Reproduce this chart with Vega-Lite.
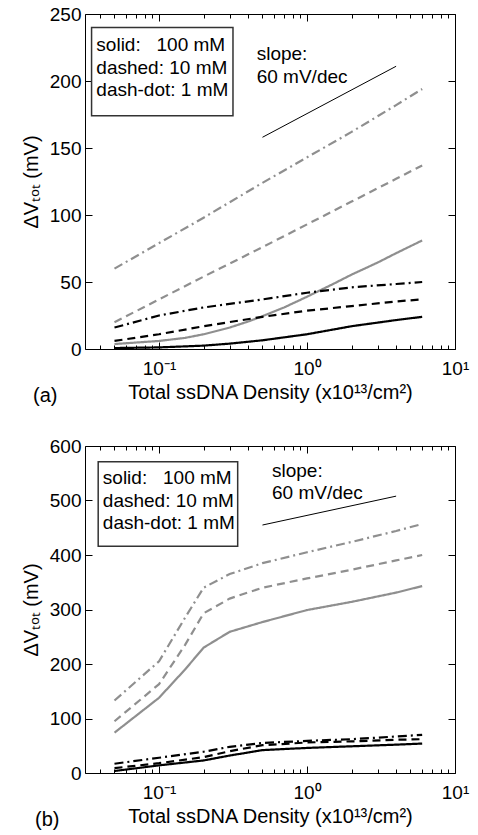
{
  "$schema": "https://vega.github.io/schema/vega-lite/v6.json",
  "padding": {"left": 20, "top": 4, "right": 5, "bottom": 5},
  "spacing": 29,
  "config": {
    "font": "Liberation Sans",
    "view": {"stroke": "black", "strokeWidth": 1},
    "axis": {"grid": false, "domain": false, "ticks": true, "tickWidth": 1, "labelFontSize": 19, "titleFontSize": 20, "labelColor": "black", "titleColor": "black", "titleFontWeight": "normal", "tickColor": "black", "labelFont": "Liberation Sans", "titleFont": "Liberation Sans"}
  },
  "datasets": {
    "curves": [
      {"panel": "a", "group": "G1", "salt": "1 mM", "x": 0.05, "y": 60},
      {"panel": "a", "group": "G1", "salt": "1 mM", "x": 0.1, "y": 79},
      {"panel": "a", "group": "G1", "salt": "1 mM", "x": 0.2, "y": 98},
      {"panel": "a", "group": "G1", "salt": "1 mM", "x": 0.5, "y": 124},
      {"panel": "a", "group": "G1", "salt": "1 mM", "x": 1, "y": 143},
      {"panel": "a", "group": "G1", "salt": "1 mM", "x": 2, "y": 162},
      {"panel": "a", "group": "G1", "salt": "1 mM", "x": 4, "y": 182},
      {"panel": "a", "group": "G1", "salt": "1 mM", "x": 6, "y": 194},
      {"panel": "a", "group": "G1", "salt": "10 mM", "x": 0.05, "y": 20},
      {"panel": "a", "group": "G1", "salt": "10 mM", "x": 0.1, "y": 37},
      {"panel": "a", "group": "G1", "salt": "10 mM", "x": 0.2, "y": 54},
      {"panel": "a", "group": "G1", "salt": "10 mM", "x": 0.5, "y": 76},
      {"panel": "a", "group": "G1", "salt": "10 mM", "x": 1, "y": 93},
      {"panel": "a", "group": "G1", "salt": "10 mM", "x": 2, "y": 110},
      {"panel": "a", "group": "G1", "salt": "10 mM", "x": 4, "y": 127},
      {"panel": "a", "group": "G1", "salt": "10 mM", "x": 6, "y": 137},
      {"panel": "a", "group": "G1", "salt": "100 mM", "x": 0.05, "y": 3.7},
      {"panel": "a", "group": "G1", "salt": "100 mM", "x": 0.1, "y": 6},
      {"panel": "a", "group": "G1", "salt": "100 mM", "x": 0.15, "y": 8.3},
      {"panel": "a", "group": "G1", "salt": "100 mM", "x": 0.2, "y": 11},
      {"panel": "a", "group": "G1", "salt": "100 mM", "x": 0.3, "y": 16},
      {"panel": "a", "group": "G1", "salt": "100 mM", "x": 0.4, "y": 20.5},
      {"panel": "a", "group": "G1", "salt": "100 mM", "x": 0.5, "y": 24.5},
      {"panel": "a", "group": "G1", "salt": "100 mM", "x": 0.7, "y": 31},
      {"panel": "a", "group": "G1", "salt": "100 mM", "x": 1, "y": 39},
      {"panel": "a", "group": "G1", "salt": "100 mM", "x": 1.5, "y": 48.5},
      {"panel": "a", "group": "G1", "salt": "100 mM", "x": 2, "y": 55.5},
      {"panel": "a", "group": "G1", "salt": "100 mM", "x": 3, "y": 64.5},
      {"panel": "a", "group": "G1", "salt": "100 mM", "x": 4, "y": 71.5},
      {"panel": "a", "group": "G1", "salt": "100 mM", "x": 6, "y": 81},
      {"panel": "a", "group": "G2", "salt": "1 mM", "x": 0.05, "y": 16},
      {"panel": "a", "group": "G2", "salt": "1 mM", "x": 0.1, "y": 25},
      {"panel": "a", "group": "G2", "salt": "1 mM", "x": 0.2, "y": 31},
      {"panel": "a", "group": "G2", "salt": "1 mM", "x": 0.5, "y": 37},
      {"panel": "a", "group": "G2", "salt": "1 mM", "x": 1, "y": 42},
      {"panel": "a", "group": "G2", "salt": "1 mM", "x": 2, "y": 46},
      {"panel": "a", "group": "G2", "salt": "1 mM", "x": 4, "y": 48.5},
      {"panel": "a", "group": "G2", "salt": "1 mM", "x": 6, "y": 50},
      {"panel": "a", "group": "G2", "salt": "10 mM", "x": 0.05, "y": 6},
      {"panel": "a", "group": "G2", "salt": "10 mM", "x": 0.1, "y": 11},
      {"panel": "a", "group": "G2", "salt": "10 mM", "x": 0.2, "y": 17},
      {"panel": "a", "group": "G2", "salt": "10 mM", "x": 0.5, "y": 24},
      {"panel": "a", "group": "G2", "salt": "10 mM", "x": 1, "y": 28.6},
      {"panel": "a", "group": "G2", "salt": "10 mM", "x": 2, "y": 32},
      {"panel": "a", "group": "G2", "salt": "10 mM", "x": 4, "y": 35.5},
      {"panel": "a", "group": "G2", "salt": "10 mM", "x": 6, "y": 37},
      {"panel": "a", "group": "G2", "salt": "100 mM", "x": 0.05, "y": 0.7},
      {"panel": "a", "group": "G2", "salt": "100 mM", "x": 0.1, "y": 1.2},
      {"panel": "a", "group": "G2", "salt": "100 mM", "x": 0.2, "y": 2.5},
      {"panel": "a", "group": "G2", "salt": "100 mM", "x": 0.3, "y": 4},
      {"panel": "a", "group": "G2", "salt": "100 mM", "x": 0.5, "y": 6.5},
      {"panel": "a", "group": "G2", "salt": "100 mM", "x": 1, "y": 11},
      {"panel": "a", "group": "G2", "salt": "100 mM", "x": 2, "y": 17},
      {"panel": "a", "group": "G2", "salt": "100 mM", "x": 4, "y": 21.6},
      {"panel": "a", "group": "G2", "salt": "100 mM", "x": 6, "y": 24},
      {"panel": "b", "group": "G1", "salt": "1 mM", "x": 0.05, "y": 133},
      {"panel": "b", "group": "G1", "salt": "1 mM", "x": 0.1, "y": 205},
      {"panel": "b", "group": "G1", "salt": "1 mM", "x": 0.15, "y": 285},
      {"panel": "b", "group": "G1", "salt": "1 mM", "x": 0.2, "y": 340},
      {"panel": "b", "group": "G1", "salt": "1 mM", "x": 0.3, "y": 365},
      {"panel": "b", "group": "G1", "salt": "1 mM", "x": 0.5, "y": 385},
      {"panel": "b", "group": "G1", "salt": "1 mM", "x": 1, "y": 405},
      {"panel": "b", "group": "G1", "salt": "1 mM", "x": 2, "y": 424},
      {"panel": "b", "group": "G1", "salt": "1 mM", "x": 4, "y": 444},
      {"panel": "b", "group": "G1", "salt": "1 mM", "x": 6, "y": 457},
      {"panel": "b", "group": "G1", "salt": "10 mM", "x": 0.05, "y": 95},
      {"panel": "b", "group": "G1", "salt": "10 mM", "x": 0.1, "y": 163},
      {"panel": "b", "group": "G1", "salt": "10 mM", "x": 0.15, "y": 235},
      {"panel": "b", "group": "G1", "salt": "10 mM", "x": 0.2, "y": 293},
      {"panel": "b", "group": "G1", "salt": "10 mM", "x": 0.3, "y": 320},
      {"panel": "b", "group": "G1", "salt": "10 mM", "x": 0.5, "y": 340},
      {"panel": "b", "group": "G1", "salt": "10 mM", "x": 1, "y": 357},
      {"panel": "b", "group": "G1", "salt": "10 mM", "x": 2, "y": 373},
      {"panel": "b", "group": "G1", "salt": "10 mM", "x": 4, "y": 390},
      {"panel": "b", "group": "G1", "salt": "10 mM", "x": 6, "y": 400},
      {"panel": "b", "group": "G1", "salt": "100 mM", "x": 0.05, "y": 74},
      {"panel": "b", "group": "G1", "salt": "100 mM", "x": 0.1, "y": 138},
      {"panel": "b", "group": "G1", "salt": "100 mM", "x": 0.15, "y": 190},
      {"panel": "b", "group": "G1", "salt": "100 mM", "x": 0.2, "y": 230},
      {"panel": "b", "group": "G1", "salt": "100 mM", "x": 0.3, "y": 259},
      {"panel": "b", "group": "G1", "salt": "100 mM", "x": 0.5, "y": 277},
      {"panel": "b", "group": "G1", "salt": "100 mM", "x": 1, "y": 299},
      {"panel": "b", "group": "G1", "salt": "100 mM", "x": 2, "y": 314},
      {"panel": "b", "group": "G1", "salt": "100 mM", "x": 4, "y": 331},
      {"panel": "b", "group": "G1", "salt": "100 mM", "x": 6, "y": 343},
      {"panel": "b", "group": "G2", "salt": "1 mM", "x": 0.05, "y": 17},
      {"panel": "b", "group": "G2", "salt": "1 mM", "x": 0.1, "y": 28},
      {"panel": "b", "group": "G2", "salt": "1 mM", "x": 0.2, "y": 39},
      {"panel": "b", "group": "G2", "salt": "1 mM", "x": 0.3, "y": 48},
      {"panel": "b", "group": "G2", "salt": "1 mM", "x": 0.5, "y": 55},
      {"panel": "b", "group": "G2", "salt": "1 mM", "x": 1, "y": 59},
      {"panel": "b", "group": "G2", "salt": "1 mM", "x": 2, "y": 62},
      {"panel": "b", "group": "G2", "salt": "1 mM", "x": 4, "y": 67},
      {"panel": "b", "group": "G2", "salt": "1 mM", "x": 6, "y": 70},
      {"panel": "b", "group": "G2", "salt": "10 mM", "x": 0.05, "y": 9},
      {"panel": "b", "group": "G2", "salt": "10 mM", "x": 0.1, "y": 18},
      {"panel": "b", "group": "G2", "salt": "10 mM", "x": 0.2, "y": 29},
      {"panel": "b", "group": "G2", "salt": "10 mM", "x": 0.3, "y": 40},
      {"panel": "b", "group": "G2", "salt": "10 mM", "x": 0.5, "y": 51},
      {"panel": "b", "group": "G2", "salt": "10 mM", "x": 1, "y": 56},
      {"panel": "b", "group": "G2", "salt": "10 mM", "x": 2, "y": 58},
      {"panel": "b", "group": "G2", "salt": "10 mM", "x": 4, "y": 61},
      {"panel": "b", "group": "G2", "salt": "10 mM", "x": 6, "y": 62},
      {"panel": "b", "group": "G2", "salt": "100 mM", "x": 0.05, "y": 3.7},
      {"panel": "b", "group": "G2", "salt": "100 mM", "x": 0.1, "y": 14},
      {"panel": "b", "group": "G2", "salt": "100 mM", "x": 0.2, "y": 23},
      {"panel": "b", "group": "G2", "salt": "100 mM", "x": 0.3, "y": 32},
      {"panel": "b", "group": "G2", "salt": "100 mM", "x": 0.5, "y": 42},
      {"panel": "b", "group": "G2", "salt": "100 mM", "x": 1, "y": 46},
      {"panel": "b", "group": "G2", "salt": "100 mM", "x": 2, "y": 49},
      {"panel": "b", "group": "G2", "salt": "100 mM", "x": 4, "y": 52},
      {"panel": "b", "group": "G2", "salt": "100 mM", "x": 6, "y": 54}
    ],
    "slope": [
      {"panel": "a", "x": 0.5, "y": 158},
      {"panel": "a", "x": 4, "y": 211},
      {"panel": "b", "x": 0.5, "y": 455},
      {"panel": "b", "x": 4, "y": 508}
    ],
    "box": [
      {"panel": "a", "x1": 0.035, "x2": 0.316, "y1": 174, "y2": 240},
      {"panel": "b", "x1": 0.0388, "x2": 0.34, "y1": 416, "y2": 571}
    ],
    "labels": [
      {"panel": "a", "x": 0.0377, "y": 227, "label": "solid:\u00a0\u00a0\u00a0100 mM"},
      {"panel": "a", "x": 0.0377, "y": 210, "label": "dashed: 10 mM"},
      {"panel": "a", "x": 0.0377, "y": 193, "label": "dash-dot: 1 mM"},
      {"panel": "a", "x": 0.457, "y": 220, "label": "slope:"},
      {"panel": "a", "x": 0.457, "y": 203, "label": "60 mV/dec"},
      {"panel": "b", "x": 0.0417, "y": 541, "label": "solid:\u00a0\u00a0\u00a0100 mM"},
      {"panel": "b", "x": 0.0417, "y": 499, "label": "dashed: 10 mM"},
      {"panel": "b", "x": 0.0417, "y": 458, "label": "dash-dot: 1 mM"},
      {"panel": "b", "x": 0.58, "y": 555, "label": "slope:"},
      {"panel": "b", "x": 0.58, "y": 514, "label": "60 mV/dec"}
    ]
  },
  "vconcat": [
    {
      "width": 370,
      "height": 335,
      "title": {"text": "(a)", "orient": "bottom", "anchor": "start", "frame": "group", "fontSize": 20, "fontWeight": "normal", "font": "Liberation Sans", "dx": -52, "dy": -20},
      "resolve": {"axis": {"x": "independent", "y": "independent"}},
      "layer": [
        {
          "data": {"name": "box"},
          "transform": [{"filter": "datum.panel === 'a'"}],
          "mark": {"type": "rect", "fill": "white", "stroke": "#333333", "strokeWidth": 1.5},
          "encoding": {
            "x": {"field": "x1", "type": "quantitative", "scale": {"type": "log", "domain": [0.0316, 10], "nice": false},
              "axis": {"orient": "top", "title": null, "labels": false, "values": [0.1, 1, 10], "tickSize": 7, "offset": -7}},
            "x2": {"field": "x2"},
            "y": {"field": "y1", "type": "quantitative", "scale": {"domain": [0, 250], "nice": false},
              "axis": {"orient": "right", "title": null, "labels": false, "values": [0, 50, 100, 150, 200, 250], "tickSize": 7, "offset": -7}},
            "y2": {"field": "y2"}
          }
        },
        {
          "data": {"name": "curves"},
          "transform": [{"filter": "datum.panel === 'a'"}],
          "mark": {"type": "line", "strokeWidth": 2.2},
          "encoding": {
            "x": {"field": "x", "type": "quantitative", "scale": {"type": "log", "domain": [0.0316, 10], "nice": false},
              "axis": {"orient": "bottom", "title": "Total ssDNA Density (x10\u00b9\u00b3/cm\u00b2)", "values": [0.1, 1, 10], "tickSize": 7, "offset": -7,
                "labelExpr": "datum.value === 0.1 ? '10\u207b\u00b9' : datum.value === 1 ? '10\u2070' : '10\u00b9'",
                "labelPadding": 10, "titlePadding": 4, "labelFlush": false, "labelOverlap": false}},
            "y": {"field": "y", "type": "quantitative", "scale": {"domain": [0, 250], "nice": false},
              "axis": {"orient": "left", "title": "\u0394V\u209c\u2092\u209c (mV)", "values": [0, 50, 100, 150, 200, 250], "tickSize": 7, "offset": -7, "labelPadding": 4, "titlePadding": 8}},
            "color": {"field": "group", "type": "nominal", "scale": {"domain": ["G1", "G2"], "range": ["#8f8f8f", "#000000"]}, "legend": null},
            "strokeDash": {"field": "salt", "type": "nominal", "scale": {"domain": ["100 mM", "10 mM", "1 mM"], "range": [[1, 0], [8, 5], [9, 4, 2, 4]]}, "legend": null},
            "detail": {"field": "salt"}
          }
        },
        {
          "data": {"name": "slope"},
          "transform": [{"filter": "datum.panel === 'a'"}],
          "mark": {"type": "line", "color": "black", "strokeWidth": 1},
          "encoding": {
            "x": {"field": "x", "type": "quantitative",
              "axis": {"orient": "bottom", "title": null, "labels": false, "values": [0.04,0.05,0.06,0.07,0.08,0.09,0.2,0.3,0.4,0.5,0.6,0.7,0.8,0.9,2,3,4,5,6,7,8,9], "tickSize": 4, "offset": -4}},
            "y": {"field": "y", "type": "quantitative", "axis": null}
          }
        },
        {
          "data": {"name": "labels"},
          "transform": [{"filter": "datum.panel === 'a'"}],
          "mark": {"type": "text", "align": "left", "baseline": "middle", "fontSize": 19, "font": "Liberation Sans", "color": "black"},
          "encoding": {
            "x": {"field": "x", "type": "quantitative",
              "axis": {"orient": "top", "title": null, "labels": false, "values": [0.04,0.05,0.06,0.07,0.08,0.09,0.2,0.3,0.4,0.5,0.6,0.7,0.8,0.9,2,3,4,5,6,7,8,9], "tickSize": 4, "offset": -4}},
            "y": {"field": "y", "type": "quantitative", "axis": null},
            "text": {"field": "label"}
          }
        }
      ]
    },
    {
      "width": 370,
      "height": 327,
      "title": {"text": "(b)", "orient": "bottom", "anchor": "start", "frame": "group", "fontSize": 20, "fontWeight": "normal", "font": "Liberation Sans", "dx": -50, "dy": -20},
      "resolve": {"axis": {"x": "independent", "y": "independent"}},
      "layer": [
        {
          "data": {"name": "box"},
          "transform": [{"filter": "datum.panel === 'b'"}],
          "mark": {"type": "rect", "fill": "white", "stroke": "#333333", "strokeWidth": 1.5},
          "encoding": {
            "x": {"field": "x1", "type": "quantitative", "scale": {"type": "log", "domain": [0.0316, 10], "nice": false},
              "axis": {"orient": "top", "title": null, "labels": false, "values": [0.1, 1, 10], "tickSize": 7, "offset": -7}},
            "x2": {"field": "x2"},
            "y": {"field": "y1", "type": "quantitative", "scale": {"domain": [0, 600], "nice": false},
              "axis": {"orient": "right", "title": null, "labels": false, "values": [0, 100, 200, 300, 400, 500, 600], "tickSize": 7, "offset": -7}},
            "y2": {"field": "y2"}
          }
        },
        {
          "data": {"name": "curves"},
          "transform": [{"filter": "datum.panel === 'b'"}],
          "mark": {"type": "line", "strokeWidth": 2.2},
          "encoding": {
            "x": {"field": "x", "type": "quantitative", "scale": {"type": "log", "domain": [0.0316, 10], "nice": false},
              "axis": {"orient": "bottom", "title": "Total ssDNA Density (x10\u00b9\u00b3/cm\u00b2)", "values": [0.1, 1, 10], "tickSize": 7, "offset": -7,
                "labelExpr": "datum.value === 0.1 ? '10\u207b\u00b9' : datum.value === 1 ? '10\u2070' : '10\u00b9'",
                "labelPadding": 10, "titlePadding": 4, "labelFlush": false, "labelOverlap": false}},
            "y": {"field": "y", "type": "quantitative", "scale": {"domain": [0, 600], "nice": false},
              "axis": {"orient": "left", "title": "\u0394V\u209c\u2092\u209c (mV)", "values": [0, 100, 200, 300, 400, 500, 600], "tickSize": 7, "offset": -7, "labelPadding": 4, "titlePadding": 8}},
            "color": {"field": "group", "type": "nominal", "scale": {"domain": ["G1", "G2"], "range": ["#8f8f8f", "#000000"]}, "legend": null},
            "strokeDash": {"field": "salt", "type": "nominal", "scale": {"domain": ["100 mM", "10 mM", "1 mM"], "range": [[1, 0], [8, 5], [9, 4, 2, 4]]}, "legend": null},
            "detail": {"field": "salt"}
          }
        },
        {
          "data": {"name": "slope"},
          "transform": [{"filter": "datum.panel === 'b'"}],
          "mark": {"type": "line", "color": "black", "strokeWidth": 1},
          "encoding": {
            "x": {"field": "x", "type": "quantitative",
              "axis": {"orient": "bottom", "title": null, "labels": false, "values": [0.04,0.05,0.06,0.07,0.08,0.09,0.2,0.3,0.4,0.5,0.6,0.7,0.8,0.9,2,3,4,5,6,7,8,9], "tickSize": 4, "offset": -4}},
            "y": {"field": "y", "type": "quantitative", "axis": null}
          }
        },
        {
          "data": {"name": "labels"},
          "transform": [{"filter": "datum.panel === 'b'"}],
          "mark": {"type": "text", "align": "left", "baseline": "middle", "fontSize": 19, "font": "Liberation Sans", "color": "black"},
          "encoding": {
            "x": {"field": "x", "type": "quantitative",
              "axis": {"orient": "top", "title": null, "labels": false, "values": [0.04,0.05,0.06,0.07,0.08,0.09,0.2,0.3,0.4,0.5,0.6,0.7,0.8,0.9,2,3,4,5,6,7,8,9], "tickSize": 4, "offset": -4}},
            "y": {"field": "y", "type": "quantitative", "axis": null},
            "text": {"field": "label"}
          }
        }
      ]
    }
  ]
}
